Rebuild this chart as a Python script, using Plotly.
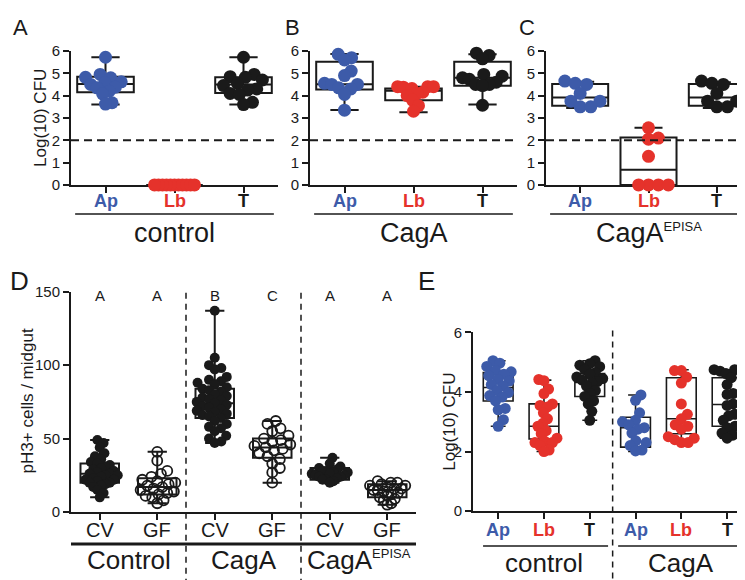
import math
import plotly.graph_objects as go

W, H = 745, 580
BLUE = '#3d5ba9'
RED = '#e5322b'
INK = '#1a1a1a'
FONT = 'Liberation Sans, Arial, sans-serif'
EPISA = 'CagA<sup><span style="font-size:13px">EPISA</span></sup>'

# ---------------- panels A-C : Log(10) CFU (Ap / Lb / T) ----------------
bact_labels = ['Ap', 'Lb', 'T']
cfu_groups = ['control', 'CagA', EPISA]

a_ap = [5.72, 4.95, 4.82, 4.8, 4.62, 4.58, 4.5, 4.38, 4.35, 4.2, 4.08, 3.68, 3.62]
a_lb = [0, 0, 0, 0, 0, 0, 0, 0, 0, 0, 0]
a_t = [5.72, 4.95, 4.85, 4.82, 4.7, 4.55, 4.45, 4.3, 4.25, 4.1, 4.05, 3.7, 3.6]
a_q1 = [4.15, 0, 4.12]
a_med = [4.52, 0, 4.5]
a_q3 = [4.85, 0, 4.82]
a_min = [3.6, 0, 3.6]
a_max = [5.72, 0, 5.72]

b_ap = [5.85, 5.7, 5.6, 5.1, 4.9, 4.55, 4.5, 4.5, 4.35, 4.3, 4.05, 3.35]
b_lb = [4.4, 4.4, 4.4, 4.38, 4.32, 4.15, 4.1, 4.0, 3.8, 3.55, 3.3]
b_t = [5.9, 5.8, 5.65, 4.95, 4.87, 4.8, 4.73, 4.6, 4.5, 4.5, 4.45, 3.57]
b_q1 = [4.27, 3.79, 4.44]
b_med = [4.51, 4.22, 4.8]
b_q3 = [5.52, 4.32, 5.52]
b_min = [3.36, 3.25, 3.6]
b_max = [5.86, 4.4, 5.85]

c_ap = [4.65, 4.55, 4.5, 4.1, 3.75, 3.75, 3.5, 3.5]
c_lb = [2.56, 2.1, 2.05, 1.28, 0, 0, 0, 0]
c_t = [4.65, 4.55, 4.5, 4.1, 3.75, 3.75, 3.5, 3.5]
c_q1 = [3.55, 0, 3.55]
c_med = [3.92, 0.68, 3.92]
c_q3 = [4.52, 2.12, 4.52]
c_min = [3.45, 0, 3.45]
c_max = [4.62, 2.56, 4.6]

# ---------------- panel D : pH3+ cells / midgut ----------------
d_labels = ['CV', 'GF', 'CV', 'GF', 'CV', 'GF']
d_groups = ['Control', 'CagA', EPISA]
d_letters = ['A', 'A', 'B', 'C', 'A', 'A']
d_ctrl_cv = [49, 47, 44, 40, 38, 36, 34, 33, 32, 31, 30, 29, 28, 27, 26, 26, 25, 25, 24, 23, 22,
             22, 21, 20, 20, 19, 18, 17, 15, 13, 10]
d_ctrl_gf = [41, 35, 28, 26, 24, 22, 21, 20, 19, 18, 17, 16, 15, 14, 13, 12, 11, 10, 8, 6]
d_caga_cv = [137, 105, 100, 98, 97, 92, 90, 89, 88, 87, 85, 84, 83, 82, 80, 79, 78, 77, 76, 75,
             74, 73, 72, 71, 70, 69, 68, 67, 66, 65, 64, 62, 60, 58, 57, 55, 52, 50, 48, 47]
d_caga_gf = [62, 60, 57, 55, 52, 50, 49, 48, 46, 45, 44, 43, 42, 40, 38, 36, 33, 30, 27, 20]
d_epi_cv = [37, 33, 31, 30, 29, 28, 28, 27, 27, 26, 26, 25, 25, 24, 24, 23, 22, 22, 21, 20]
d_epi_gf = [21, 20, 20, 19, 18, 18, 17, 16, 16, 15, 15, 14, 13, 12, 11, 10, 9, 8, 6, 5]
d_q1 = [20, 12, 64, 37, 22, 10]
d_med = [26, 17, 74, 44, 26, 15]
d_q3 = [33, 23, 84, 50, 30, 19]
d_min = [10, 6, 47, 20, 20, 5]
d_max = [49, 41, 137, 62, 37, 21]

# ---------------- panel E : Log(10) CFU, control vs CagA ----------------
e_labels = ['Ap', 'Lb', 'T', 'Ap', 'Lb', 'T']
e_groups = ['control', 'CagA']
e_ctrl_ap = [5.05, 4.97, 4.86, 4.72, 4.68, 4.6, 4.55, 4.42, 4.37, 4.25, 4.2, 4.05, 3.98, 3.88,
             3.83, 3.7, 3.45, 3.4, 3.07, 2.85]
e_ctrl_lb = [4.42, 4.38, 4.1, 3.95, 3.6, 3.55, 3.5, 3.3, 3.1, 2.95, 2.85, 2.7, 2.6, 2.45, 2.35,
             2.3, 2.3, 2.2, 2.05, 2.0]
e_ctrl_t = [5.05, 4.95, 4.9, 4.85, 4.75, 4.65, 4.6, 4.5, 4.45, 4.4, 4.35, 4.3, 4.2, 4.05, 3.95,
            3.85, 3.7, 3.6, 3.35, 3.05]
e_caga_ap = [3.9, 3.72, 3.3, 3.05, 3.0, 2.9, 2.8, 2.75, 2.62, 2.36, 2.3, 2.2, 2.05, 2.02]
e_caga_lb = [4.72, 4.72, 4.5, 4.3, 3.6, 3.25, 3.1, 2.9, 2.85, 2.75, 2.5, 2.45, 2.4, 2.3, 2.3]
e_caga_t = [4.75, 4.75, 4.7, 4.62, 4.48, 4.25, 3.95, 3.92, 3.6, 3.55, 3.25, 3.2, 3.05, 2.85,
            2.8, 2.62, 2.55, 2.45]
e_q1 = [3.7, 2.42, 3.85, 2.15, 2.6, 2.85]
e_med = [4.15, 2.85, 4.32, 2.8, 3.1, 3.58]
e_q3 = [4.65, 3.6, 4.62, 3.15, 4.48, 4.48]
e_min = [2.85, 2.0, 3.05, 2.0, 2.3, 2.45]
e_max = [5.05, 4.4, 5.05, 3.9, 4.75, 4.75]


def swarm(vals, diam, px_x, px_y, limit):
    # simple beeswarm: offsets (in x units) so dots don't pile on each other
    order = sorted(range(len(vals)), key=lambda i: vals[i])
    placed = []
    offs = [0.0] * len(vals)
    for i in order:
        y = vals[i] * px_y
        cands = [0.0]
        for px_, py_ in placed:
            dy = abs(py_ - y)
            if dy < diam:
                dx = math.sqrt(diam * diam - dy * dy)
                cands += [px_ + dx, px_ - dx]
        cands.sort(key=abs)
        for c in cands:
            if all((c - a) ** 2 + (y - b) ** 2 >= diam * diam - 1e-6 for a, b in placed):
                break
        placed.append((c, y))
        offs[i] = c
    m = max(abs(o) for o in offs) or 1.0
    k = min(1.0, limit / m)
    return [o * k / px_x for o in offs]


fig = go.Figure()


def add_group(xa, ya, pos, vals, stats, color, bw, msize, px_x, px_y, limit, lw=2, open_dot=False):
    q1, med, q3, lo, hi = stats
    fig.add_trace(go.Box(x=[pos], q1=[q1], median=[med], q3=[q3], lowerfence=[lo], upperfence=[hi],
                         xaxis=xa, yaxis=ya, width=bw, whiskerwidth=0.5, fillcolor='white',
                         line=dict(color=INK, width=lw), boxpoints=False,
                         showlegend=False, hoverinfo='skip'))
    offs = swarm(vals, msize * 0.9, px_x, px_y, limit)
    if open_dot:
        marker = dict(symbol='circle-open', size=msize, color=INK, line=dict(width=1.8, color=INK))
    else:
        marker = dict(symbol='circle', size=msize, color=color, line=dict(width=0))
    fig.add_trace(go.Scatter(x=[pos + o for o in offs], y=vals, xaxis=xa, yaxis=ya,
                             mode='markers', cliponaxis=False, marker=marker,
                             showlegend=False, hoverinfo='y'))


bact_colors = [BLUE, RED, INK]
abc = [
    ('x', 'y', [a_ap, a_lb, a_t], [a_q1, a_med, a_q3, a_min, a_max]),
    ('x2', 'y2', [b_ap, b_lb, b_t], [b_q1, b_med, b_q3, b_min, b_max]),
    ('x3', 'y3', [c_ap, c_lb, c_t], [c_q1, c_med, c_q3, c_min, c_max]),
]
for xa, ya, series, st in abc:
    for k, vals in enumerate(series):
        add_group(xa, ya, k, vals, [s[k] for s in st], bact_colors[k], 0.82, 13, 69, 23, 20)

d_series = [d_ctrl_cv, d_ctrl_gf, d_caga_cv, d_caga_gf, d_epi_cv, d_epi_gf]
for k, vals in enumerate(d_series):
    st = [d_q1[k], d_med[k], d_q3[k], d_min[k], d_max[k]]
    add_group('x4', 'y4', k, vals, st, INK, 0.67, 10, 57.5, 1.513, 18, open_dot=(k % 2 == 1))

e_series = [e_ctrl_ap, e_ctrl_lb, e_ctrl_t, e_caga_ap, e_caga_lb, e_caga_t]
for k, vals in enumerate(e_series):
    st = [e_q1[k], e_med[k], e_q3[k], e_min[k], e_max[k]]
    add_group('x5', 'y5', k, vals, st, bact_colors[k % 3], 0.65, 11, 45.8, 30.7, 13, lw=1.6)


def px(v):
    return v / W


def py(v):
    return 1 - v / H


axis_common = dict(showline=True, linewidth=2, linecolor=INK, ticks='outside', ticklen=6,
                   tickwidth=2, tickcolor=INK, showgrid=False, zeroline=False,
                   layer='below traces')

layout_axes = {}
for i, (x0, x1) in enumerate([(63, 270), (302, 509), (538, 743)]):
    sfx = '' if i == 0 else str(i + 1)
    layout_axes['xaxis' + sfx] = dict(axis_common, domain=[px(x0), px(x1)], range=[-0.5, 2.5],
                                      anchor='y' + sfx, tickvals=[0, 1, 2], showticklabels=False)
    layout_axes['yaxis' + sfx] = dict(axis_common, domain=[py(173), py(35)], range=[0, 6], dtick=1,
                                      anchor='x' + sfx, tickfont=dict(size=15, color=INK))

layout_axes['xaxis4'] = dict(axis_common, domain=[px(63), px(408)], range=[-0.5, 5.5], anchor='y4',
                             tickvals=list(range(6)), showticklabels=False)
layout_axes['yaxis4'] = dict(axis_common, domain=[py(510), py(283)], range=[0, 150],
                             tickvals=[0, 50, 100, 150], anchor='x4', tickfont=dict(size=15, color=INK))
layout_axes['xaxis5'] = dict(axis_common, domain=[px(465), px(742)], range=[-0.55, 5.5], anchor='y5',
                             tickvals=list(range(6)), showticklabels=False)
layout_axes['yaxis5'] = dict(axis_common, domain=[py(509), py(325)], range=[0, 6],
                             tickvals=[0, 2, 4, 6], anchor='x5', tickfont=dict(size=15, color=INK))

shapes = []
dash_line = dict(color=INK, width=2, dash='8px,5px')
for sfx in ['', '2', '3']:
    # detection limit at 2 log
    shapes.append(dict(type='line', xref='x%s domain' % sfx, yref='y' + sfx, x0=0, x1=1, y0=2, y1=2,
                       line=dash_line))
    shapes.append(dict(type='line', xref='x%s domain' % sfx, yref='paper', x0=0.02, x1=0.98,
                       y0=py(203), y1=py(203), line=dict(color=INK, width=1.5)))
for xv in [1.5, 3.5]:
    shapes.append(dict(type='line', xref='x4', yref='paper', x0=xv, x1=xv, y0=py(284), y1=0,
                       line=dict(color=INK, width=1.5, dash='6px,5px')))
shapes.append(dict(type='line', xref='x4 domain', yref='paper', x0=0, x1=1, y0=py(543), y1=py(543),
                   line=dict(color=INK, width=3)))
shapes.append(dict(type='line', xref='x5', yref='paper', x0=2.5, x1=2.5, y0=py(323), y1=0,
                   line=dict(color=INK, width=1.5, dash='6px,5px')))
for x0, x1 in [(-0.33, 2.4), (2.62, 5.42)]:
    shapes.append(dict(type='line', xref='x5', yref='paper', x0=x0, x1=x1, y0=py(545), y1=py(545),
                       line=dict(color=INK, width=1.5)))

ann = []


def label(text, x, y, size, xref='paper', yref='paper', color=INK, angle=0, xanchor='center',
          yanchor='middle'):
    ann.append(dict(text=text, xref=xref, yref=yref, x=x, y=y, xanchor=xanchor, yanchor=yanchor,
                    textangle=angle, showarrow=False, font=dict(size=size, color=color)))


# panel letters
for lbl, x, y, fs in [('A', 3, 26, 22), ('B', 275, 26, 22), ('C', 509, 26, 22),
                      ('D', 0, 289, 26), ('E', 408, 289, 26)]:
    label(lbl, px(x), py(y), fs, xanchor='left', yanchor='bottom')

for k, sfx in enumerate(['', '2', '3']):
    for j, b in enumerate(bact_labels):
        label('<b>%s</b>' % b, j, py(190), 18, xref='x' + sfx, color=bact_colors[j])
    label(cfu_groups[k], 1, py(223), 27, xref='x' + sfx)

label('Log(10) CFU', px(33), py(104), 17, angle=-90)
label('pH3+ cells / midgut', px(19), py(396), 17, angle=-90)
label('Log(10) CFU', px(442), py(417), 17, angle=-90)

for k, l in enumerate(d_labels):
    label(l, k, py(529), 20, xref='x4')
for k, g in enumerate(d_groups):
    label(g, 2 * k + 0.5, py(559), 26, xref='x4')
for k, l in enumerate(d_letters):
    label(l, k, py(287), 15, xref='x4')

for k, l in enumerate(e_labels):
    label('<b>%s</b>' % l, k, py(528), 18, xref='x5', color=bact_colors[k % 3])
for k, g in enumerate(e_groups):
    label(g, 3 * k + 1, py(562), 26, xref='x5')

fig.update_layout(width=W, height=H, margin=dict(l=0, r=0, t=0, b=0), showlegend=False,
                  plot_bgcolor='white', paper_bgcolor='white', boxmode='overlay',
                  font=dict(family=FONT, color=INK), shapes=shapes, annotations=ann,
                  **layout_axes)
fig.write_html("out.html")
